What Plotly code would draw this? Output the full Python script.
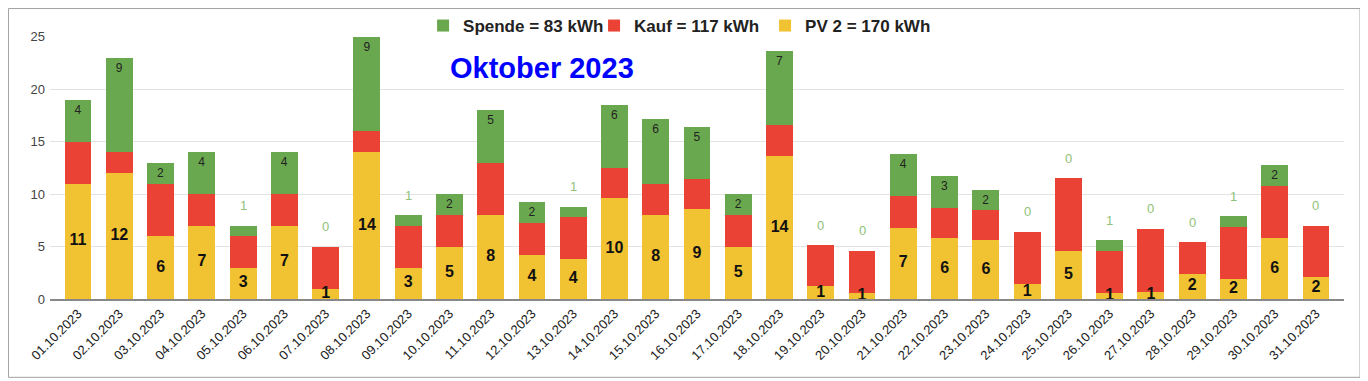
import plotly.graph_objects as go

dates = [f"{d:02d}.10.2023" for d in range(1, 32)]

pv2 = [11, 12, 6, 7, 3, 7, 1, 14, 3, 5, 8, 4.2, 3.8, 9.6, 8, 8.6, 5, 13.6, 1.2, 0.6,
       6.8, 5.8, 5.6, 1.4, 4.6, 0.6, 0.7, 2.4, 1.9, 5.8, 2.1]
kauf = [4, 2, 5, 3, 3, 3, 4, 2, 4, 3, 5, 3, 4, 2.9, 3, 2.8, 3, 3, 3.9, 4,
        3, 2.9, 2.85, 5, 6.9, 4, 6, 3, 5, 5, 4.9]
spende = [4, 9, 2, 4, 1, 4, 0, 9, 1, 2, 5, 2, 1, 6, 6.1, 5, 2, 7, 0, 0,
          4, 3, 1.95, 0, 0, 1, 0, 0, 1, 2, 0]

legend_names = ["PV 2 = 170 kWh", "Kauf = 117 kWh", "Spende = 83 kWh"]
title_text = "Oktober 2023"
y_ticks = [0, 5, 10, 15, 20, 25]

GREEN = "#6aa84f"
RED = "#ea4335"
YELLOW = "#f1c232"
LIGHT_GREEN = "#8fc27a"
FONT = "Liberation Sans, Arial"

fig = go.Figure()

fig.add_trace(go.Bar(
    x=dates, y=pv2, name=legend_names[0], marker=dict(color=YELLOW, line=dict(width=0)),
    hoverinfo="skip",
))
fig.add_trace(go.Bar(
    x=dates, y=kauf, name=legend_names[1], marker=dict(color=RED, line=dict(width=0)),
    hoverinfo="skip",
))
fig.add_trace(go.Bar(
    x=dates, y=spende, name=legend_names[2], marker=dict(color=GREEN, line=dict(width=0)),
    text=[f"{v:.0f}" if v >= 1.5 else "" for v in spende], textposition="inside",
    insidetextanchor="end", constraintext="none", textangle=0,
    textfont=dict(family=FONT, size=12, color="#222222"),
    hoverinfo="skip",
))
# PV value labels, centred in the yellow segment, drawn on top of all bars
fig.add_trace(go.Scatter(
    x=dates, y=[p / 2 for p in pv2], mode="text", text=[f"{v:.0f}" for v in pv2],
    textposition="middle center", showlegend=False, hoverinfo="skip",
    textfont=dict(family=FONT, size=16, color="#111111", weight="bold"),
))

annotations = []
for d, p, k, s in zip(dates, pv2, kauf, spende):
    if s < 1.5:
        annotations.append(dict(
            x=d, y=p + k + s, xref="x", yref="y", text=f"{s:.0f}", showarrow=False,
            yshift=20, font=dict(family=FONT, size=13, color=LIGHT_GREEN),
        ))

annotations.append(dict(
    x=0.38, y=0.878, xref="paper", yref="paper", text=f"<b>{title_text}</b>",
    showarrow=False, xanchor="center", yanchor="middle",
    font=dict(family=FONT, size=29, color="#0000ff"),
))

# the page body has an 8px margin, so the figure is 8px smaller on each axis
fig.update_layout(
    width=1360, height=373,
    margin=dict(l=42, r=24, t=28, b=82, autoexpand=False),
    paper_bgcolor="white", plot_bgcolor="white",
    barmode="stack", bargap=0.35,
    showlegend=True,
    legend=dict(
        orientation="h", x=0.2883, y=1.038, xanchor="left", yanchor="middle",
        traceorder="reversed", font=dict(family=FONT, size=17, color="#222222", weight="bold"),
        bgcolor="rgba(0,0,0,0)", itemwidth=30, entrywidth=126, entrywidthmode="pixels",
    ),
    annotations=annotations,
    shapes=[dict(
        type="rect", xref="paper", yref="paper", x0=-0.0321, x1=1.0124, y0=-0.2978, y1=1.1044,
        line=dict(color="#a0a0a0", width=1), fillcolor="rgba(0,0,0,0)", layer="below",
    )],
    font=dict(family=FONT),
)

fig.update_xaxes(
    range=[-0.68, 30.68], tickangle=-45, showgrid=False,
    tickfont=dict(family=FONT, size=13, color="#222222"),
    showline=True, linecolor="#888888", linewidth=2, ticks="",
)
fig.update_yaxes(
    range=[0, 25.05], tickvals=y_ticks, showgrid=True, gridcolor="#e3e3e3", gridwidth=1,
    zeroline=False, tickfont=dict(family=FONT, size=13, color="#444444"),
    ticks="", showline=False, ticklabelstandoff=4,
)

fig.write_html("out.html")
